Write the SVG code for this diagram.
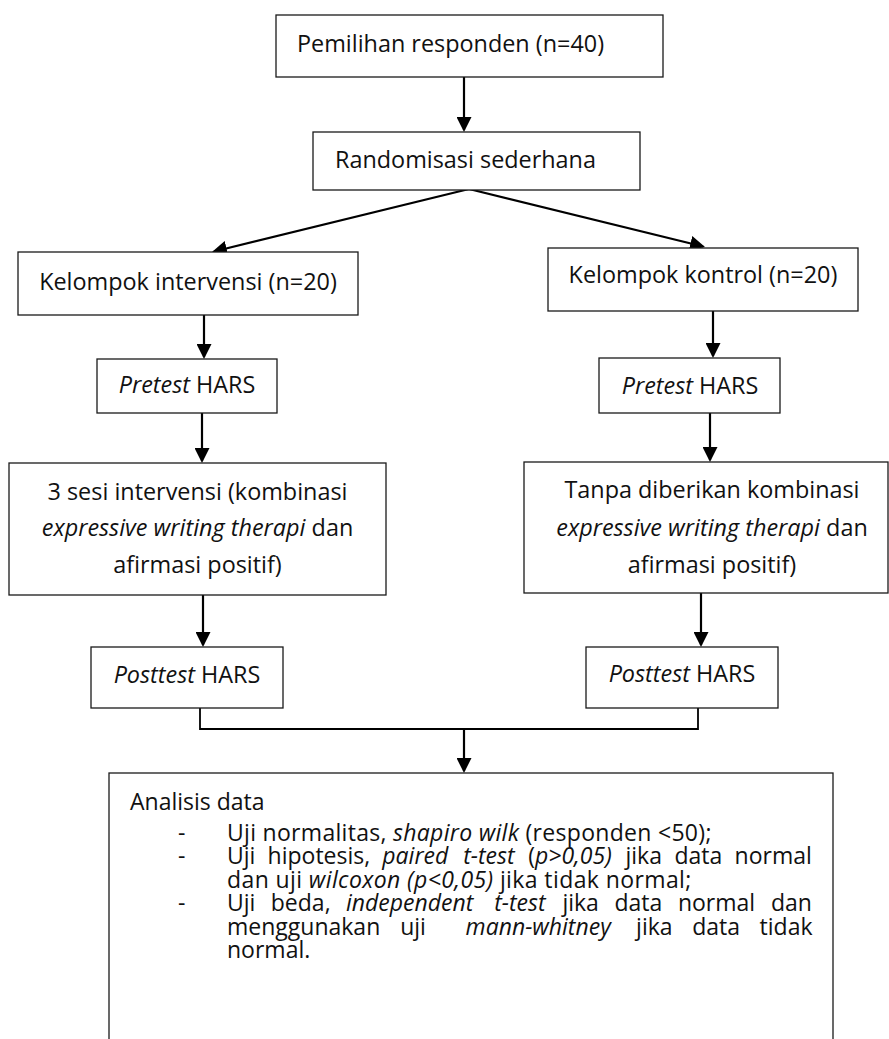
<svg xmlns="http://www.w3.org/2000/svg" width="889" height="1039" viewBox="0 0 889 1039">
<style>
.box{fill:#fff;stroke:#1a1a1a;stroke-width:1.3}
.t{font-family:"Open Sans","Liberation Sans",sans-serif;font-size:23.4px;fill:#111}
.b{font-family:"Open Sans","Liberation Sans",sans-serif;font-size:23px;fill:#111}
.i{font-style:italic}
.c{text-anchor:middle}
.ln{fill:none;stroke:#000;stroke-width:2.2}
.br{fill:none;stroke:#000;stroke-width:1.8}
</style>
<defs>
<marker id="ah" markerUnits="userSpaceOnUse" markerWidth="15" markerHeight="15" refX="13" refY="7.5" orient="auto">
<path d="M0,0 L15,7.5 L0,15 Z" fill="#000"/>
</marker>
</defs>
<rect width="889" height="1039" fill="#fff"/>

<g id="connectors">
<line class="ln" x1="464" y1="77" x2="464" y2="130" marker-end="url(#ah)"/>
<line class="ln" x1="469" y1="189" x2="213.9" y2="251.5" marker-end="url(#ah)"/>
<line class="ln" x1="469" y1="189" x2="703.1" y2="246.5" marker-end="url(#ah)"/>
<line class="ln" x1="204" y1="315" x2="204" y2="357" marker-end="url(#ah)"/>
<line class="ln" x1="713" y1="311" x2="713" y2="356" marker-end="url(#ah)"/>
<line class="ln" x1="202" y1="413" x2="202" y2="461" marker-end="url(#ah)"/>
<line class="ln" x1="710" y1="413" x2="710" y2="460" marker-end="url(#ah)"/>
<line class="ln" x1="203" y1="595" x2="203" y2="645" marker-end="url(#ah)"/>
<line class="ln" x1="701" y1="593" x2="701" y2="645" marker-end="url(#ah)"/>
<polyline class="br" points="200,708 200,729 698,729 698,708"/>
<line class="ln" x1="464" y1="729" x2="464" y2="771" marker-end="url(#ah)"/>
</g>

<g id="pemilihan">
<rect class="box" x="276" y="15" width="387" height="62"/>
<text class="t" x="297" y="52">Pemilihan responden (n=40)</text>
</g>

<g id="randomisasi">
<rect class="box" x="313" y="132" width="327" height="58"/>
<text class="t" x="335" y="168">Randomisasi sederhana</text>
</g>

<g id="kelompok-intervensi">
<rect class="box" x="18" y="252" width="340" height="63"/>
<text class="t c" x="188" y="290">Kelompok intervensi (n=20)</text>
</g>

<g id="kelompok-kontrol">
<rect class="box" x="548" y="248" width="310" height="63"/>
<text class="t c" x="703" y="283">Kelompok kontrol (n=20)</text>
</g>

<g id="pretest-intervensi">
<rect class="box" x="97" y="359" width="180" height="54"/>
<text class="t c" x="187" y="393"><tspan class="i">Pretest</tspan> HARS</text>
</g>

<g id="pretest-kontrol">
<rect class="box" x="599" y="358" width="181" height="55"/>
<text class="t c" x="690" y="394"><tspan class="i">Pretest</tspan> HARS</text>
</g>

<g id="sesi-intervensi">
<rect class="box" x="9" y="463" width="377" height="132"/>
<text class="t c" x="197.5" y="500">3 sesi intervensi (kombinasi</text>
<text class="t c" x="197.5" y="536"><tspan class="i">expressive writing therapi</tspan> dan</text>
<text class="t c" x="197.5" y="573">afirmasi positif)</text>
</g>

<g id="tanpa-intervensi">
<rect class="box" x="524" y="462" width="364" height="131"/>
<text class="t c" x="712" y="498">Tanpa diberikan kombinasi</text>
<text class="t c" x="712" y="536"><tspan class="i">expressive writing therapi</tspan> dan</text>
<text class="t c" x="712" y="573">afirmasi positif)</text>
</g>

<g id="posttest-intervensi">
<rect class="box" x="91" y="647" width="192" height="61"/>
<text class="t c" x="187" y="683"><tspan class="i">Posttest</tspan> HARS</text>
</g>

<g id="posttest-kontrol">
<rect class="box" x="586" y="647" width="192" height="61"/>
<text class="t c" x="682" y="682"><tspan class="i">Posttest</tspan> HARS</text>
</g>

<g id="analisis-data">
<rect class="box" x="109" y="773" width="724" height="290"/>
<text class="b" x="130" y="810">Analisis data</text>
<text class="b"><tspan x="178" y="841">-</tspan><tspan x="227" y="841" style="letter-spacing:0.3px">Uji normalitas, <tspan class="i">shapiro wilk</tspan> (responden &lt;50);</tspan><tspan x="178" y="864">-</tspan><tspan x="227" y="864">Uji</tspan><tspan x="267.6" y="864">hipotesis,</tspan><tspan x="382.3" y="864" class="i">paired</tspan><tspan x="463.2" y="864" class="i">t-test</tspan><tspan x="528.2" y="864">(<tspan class="i">p&gt;0,05)</tspan></tspan><tspan x="625.5" y="864">jika</tspan><tspan x="674.4" y="864">data</tspan><tspan x="734.6" y="864">normal</tspan><tspan x="227" y="888" style="letter-spacing:0.4px">dan uji <tspan class="i">wilcoxon (p&lt;0,05)</tspan> jika tidak normal;</tspan><tspan x="178" y="911">-</tspan><tspan x="227" y="911">Uji</tspan><tspan x="270.8" y="911">beda,</tspan><tspan x="345.9" y="911" class="i">independent</tspan><tspan x="494.2" y="911" class="i">t-test</tspan><tspan x="562.4" y="911">jika</tspan><tspan x="614.5" y="911">data</tspan><tspan x="677.9" y="911">normal</tspan><tspan x="770.9" y="911">dan</tspan><tspan x="227" y="935">menggunakan</tspan><tspan x="400.2" y="935">uji</tspan><tspan x="465.6" y="935" class="i">mann-whitney</tspan><tspan x="636.1" y="935">jika</tspan><tspan x="692.2" y="935">data</tspan><tspan x="759.6" y="935">tidak</tspan><tspan x="227" y="958">normal.</tspan></text>
</g>
</svg>
